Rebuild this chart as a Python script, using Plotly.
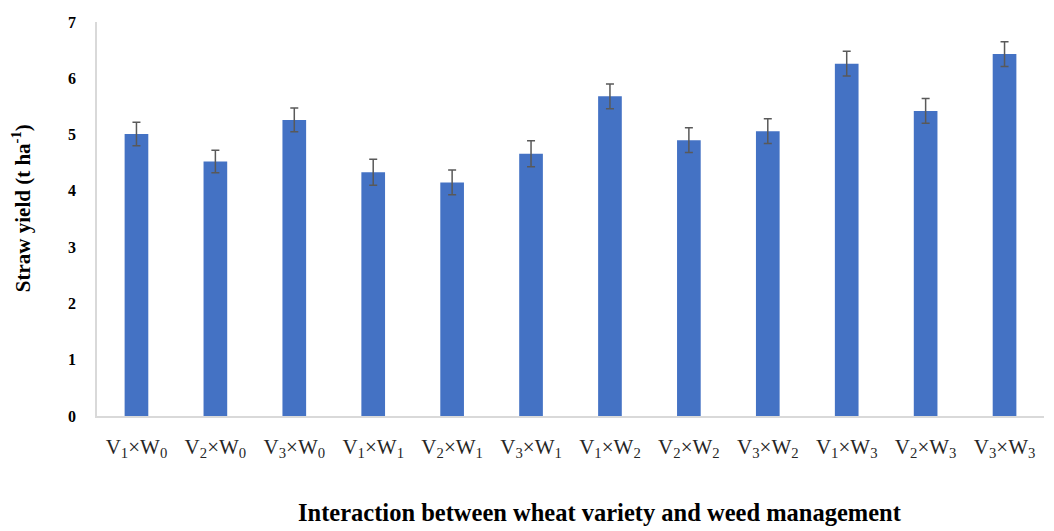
import plotly.graph_objects as go

categories = ["V<sub>1</sub>×W<sub>0</sub>", "V<sub>2</sub>×W<sub>0</sub>", "V<sub>3</sub>×W<sub>0</sub>",
              "V<sub>1</sub>×W<sub>1</sub>", "V<sub>2</sub>×W<sub>1</sub>", "V<sub>3</sub>×W<sub>1</sub>",
              "V<sub>1</sub>×W<sub>2</sub>", "V<sub>2</sub>×W<sub>2</sub>", "V<sub>3</sub>×W<sub>2</sub>",
              "V<sub>1</sub>×W<sub>3</sub>", "V<sub>2</sub>×W<sub>3</sub>", "V<sub>3</sub>×W<sub>3</sub>"]
straw_yield = [5.01, 4.52, 5.26, 4.33, 4.15, 4.66, 5.68, 4.90, 5.06, 6.26, 5.42, 6.43]
error = [0.21, 0.20, 0.21, 0.23, 0.22, 0.23, 0.22, 0.22, 0.22, 0.22, 0.22, 0.22]
y_ticks = [0, 1, 2, 3, 4, 5, 6, 7]

FONT = "Liberation Serif, Times New Roman, serif"

fig = go.Figure(go.Bar(
    x=categories, y=straw_yield, width=0.3,
    marker=dict(color="#4472C4", line=dict(width=0)),
    error_y=dict(type="data", array=error, visible=True, color="#595959", thickness=1.5, width=4),
))

fig.update_layout(
    width=1054, height=531,
    margin=dict(l=97, r=10, t=22, b=115),
    plot_bgcolor="white", paper_bgcolor="white",
    font=dict(family=FONT, color="#000000"),
    showlegend=False,
    xaxis=dict(
        range=[-0.5, 11.5], showline=True, linecolor="#d9d9d9", linewidth=1.5,
        ticks="", showgrid=False, tickfont=dict(size=21, family=FONT, color="#262626"),
        ticklabelstandoff=11,
    ),
    yaxis=dict(
        range=[0, 7], tickvals=y_ticks, showline=True, linecolor="#d9d9d9", linewidth=1.5,
        ticks="", showgrid=False, zeroline=False,
        tickfont=dict(size=16, family=FONT, color="#000000", weight="bold"),
        ticklabelstandoff=16,
    ),
    annotations=[
        dict(text="<b>Interaction between wheat variety and weed management</b>",
             xref="paper", yref="paper", x=0.531, y=-0.245, showarrow=False,
             font=dict(size=24.5, family=FONT, color="#000000"), xanchor="center", yanchor="middle"),
        dict(text="<b>Straw yield (t ha<sup>-1</sup>)</b>",
             xref="paper", yref="paper", x=-0.079, y=0.528, showarrow=False, textangle=-90,
             font=dict(size=21, family=FONT, color="#000000"), xanchor="center", yanchor="middle"),
    ],
)

fig.write_html("out.html", config={"displayModeBar": False},
               post_script="document.body.style.margin='0';document.body.style.padding='0';document.body.style.overflow='hidden';")
